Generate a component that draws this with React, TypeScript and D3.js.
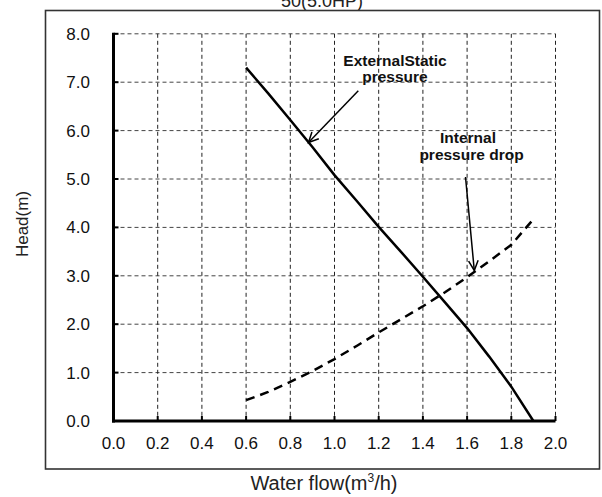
import React from "react";
import * as d3 from "d3";

const flow = [0.6, 0.7, 0.8, 0.9, 1.0, 1.1, 1.2, 1.3, 1.4, 1.5, 1.6, 1.7, 1.8, 1.9];
const externalStatic = [7.3, 6.77, 6.22, 5.66, 5.08, 4.55, 4.01, 3.5, 2.98, 2.45, 1.92, 1.33, 0.71, 0.0];
const internalDrop = [0.43, 0.6, 0.81, 1.03, 1.28, 1.55, 1.83, 2.1, 2.37, 2.66, 2.97, 3.3, 3.64, 4.17];
const xTicks = [0, 0.2, 0.4, 0.6, 0.8, 1.0, 1.2, 1.4, 1.6, 1.8, 2.0];
const yTicks = [0, 1, 2, 3, 4, 5, 6, 7, 8];
const title = "50(5.0HP)";
const xTitle = "Water flow(m";
const yTitle = "Head(m)";

const FONT = "'Liberation Sans', Arial, Helvetica, sans-serif";

export default function App() {
  const W = 602, H = 497;
  const x = d3.scaleLinear().domain([0, 2]).range([113.5, 555.5]);
  const y = d3.scaleLinear().domain([0, 8]).range([421, 33.8]);
  const line = d3.line<[number, number]>().x(d => x(d[0])).y(d => y(d[1]));
  const ext = line(flow.map((f, i) => [f, externalStatic[i]] as [number, number])) || "";
  const intl = line(flow.map((f, i) => [f, internalDrop[i]] as [number, number])) || "";

  const arrowHead = (x1: number, y1: number, x2: number, y2: number) => {
    const ang = Math.atan2(y2 - y1, x2 - x1);
    const L = 11, a = 0.45;
    const p1 = [x2 - L * Math.cos(ang - a), y2 - L * Math.sin(ang - a)];
    const p2 = [x2 - L * Math.cos(ang + a), y2 - L * Math.sin(ang + a)];
    return `M${p1[0]},${p1[1]}L${x2},${y2}L${p2[0]},${p2[1]}`;
  };

  const a1 = [358.3, 90.7, 308.5, 142.5];
  const a2 = [465.5, 177, 474.3, 270.5];

  return (
    <svg width={W} height={H} style={{ position: "absolute", left: 0, top: 0, background: "#fff" }} fontFamily={FONT}>
      <rect x={0} y={0} width={W} height={H} fill="#fff" />
      <text x={322} y={7} textAnchor="middle" fontSize={18} fill="#222">{title}</text>
      <rect x={45.5} y={10.5} width={554} height={458.5} fill="none" stroke="#333" strokeWidth={1.6} />

      {/* grid */}
      {yTicks.filter(t => t > 0).map(t => (
        <line key={"gy" + t} x1={x(0)} x2={x(2)} y1={y(t)} y2={y(t)} stroke="#444" strokeWidth={1} strokeDasharray="4,3" />
      ))}
      {xTicks.filter(t => t > 0).map(t => (
        <line key={"gx" + t} x1={x(t)} x2={x(t)} y1={y(8)} y2={y(0)} stroke="#222" strokeWidth={1} strokeDasharray="4,3" />
      ))}

      {/* ticks */}
      {yTicks.map(t => (
        <line key={"ty" + t} x1={x(0)} x2={x(0) + 5} y1={y(t)} y2={y(t)} stroke="#000" strokeWidth={2} />
      ))}
      {xTicks.map(t => (
        <line key={"tx" + t} x1={x(t)} x2={x(t)} y1={y(0)} y2={y(0) - 5} stroke="#000" strokeWidth={2} />
      ))}

      {/* axes */}
      <line x1={x(0)} x2={x(0)} y1={y(8) - 1} y2={y(0) + 1.5} stroke="#000" strokeWidth={3} />
      <line x1={x(0) - 1.5} x2={x(2)} y1={y(0)} y2={y(0)} stroke="#000" strokeWidth={3} />

      {/* tick labels */}
      {yTicks.map(t => (
        <text key={"ly" + t} x={90} y={y(t) + 6} textAnchor="end" fontSize={17} fill="#111">{t.toFixed(1)}</text>
      ))}
      {xTicks.map(t => (
        <text key={"lx" + t} x={x(t)} y={449} textAnchor="middle" fontSize={17} fill="#111">{t.toFixed(1)}</text>
      ))}

      {/* curves */}
      <path d={ext} fill="none" stroke="#000" strokeWidth={2.5} />
      <path d={intl} fill="none" stroke="#000" strokeWidth={2.5} strokeDasharray="9,6" />

      {/* annotations */}
      <text x={395} y={65.5} textAnchor="middle" fontSize={15.5} fontWeight="bold" fill="#111">ExternalStatic</text>
      <text x={395} y={81.5} textAnchor="middle" fontSize={15.5} fontWeight="bold" fill="#111">pressure</text>
      <line x1={a1[0]} y1={a1[1]} x2={a1[2]} y2={a1[3]} stroke="#000" strokeWidth={1.5} />
      <path d={arrowHead(a1[0], a1[1], a1[2], a1[3])} fill="none" stroke="#000" strokeWidth={1.5} />

      <text x={468} y={143} textAnchor="middle" fontSize={15.5} fontWeight="bold" fill="#111">Internal</text>
      <text x={471.5} y={160} textAnchor="middle" fontSize={15.5} fontWeight="bold" fill="#111">pressure drop</text>
      <line x1={a2[0]} y1={a2[1]} x2={a2[2]} y2={a2[3]} stroke="#000" strokeWidth={1.5} />
      <path d={arrowHead(a2[0], a2[1], a2[2], a2[3])} fill="none" stroke="#000" strokeWidth={1.5} />

      {/* axis titles */}
      <text x={324} y={490} textAnchor="middle" fontSize={20} fill="#222">
        {xTitle}
        <tspan fontSize={12} dy={-8}>3</tspan>
        <tspan dy={8}>/h)</tspan>
      </text>
      <text transform={`translate(28,224) rotate(-90)`} textAnchor="middle" fontSize={17} fill="#222">{yTitle}</text>
    </svg>
  );
}
